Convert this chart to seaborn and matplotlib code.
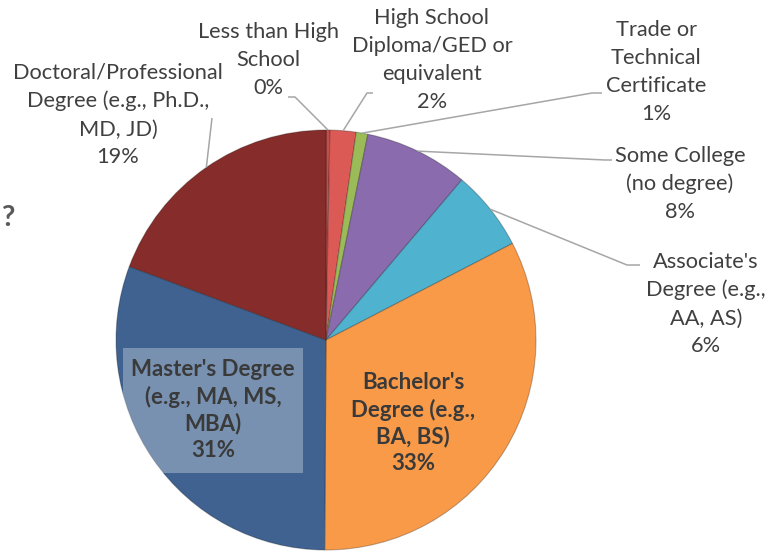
import matplotlib
matplotlib.use("Agg")
import matplotlib.pyplot as plt
import seaborn as sns
import numpy as np
from matplotlib.patches import Rectangle

# ---- data ----
categories = [
    "Less than High\nSchool",
    "High School\nDiploma/GED or\nequivalent",
    "Trade or\nTechnical\nCertificate",
    "Some College\n(no degree)",
    "Associate's\nDegree (e.g.,\nAA, AS)",
    "Bachelor's\nDegree (e.g.,\nBA, BS)",
    "Master's Degree\n(e.g., MA, MS,\nMBA)",
    "Doctoral/Professional\nDegree (e.g., Ph.D.,\nMD, JD)",
]
values = [0.3, 2.0, 0.9, 8.0, 6.2, 32.7, 30.6, 19.3]
colors = ["#c0504d", "#dc5a55", "#9bbb59", "#8a6bae", "#4fb3d0",
          "#f89a48", "#3f6290", "#862d2b"]

# ---- layout (pixels) ----
W, H = 783, 554
cx, cy, R = 326, 340, 210
# label centers (px) for outside labels
outside = {
    0: (268, 60),
    1: (432, 60),
    2: (656, 72),
    3: (680, 184),
    4: (706, 304),
    7: (118, 115),
}
# leader elbow and end points (px)
leaders = {
    0: [(295, 97), (288, 97)],
    1: [(367, 93), (373, 93)],
    2: [(592, 93), (602, 93)],
    3: [(605, 160), (612, 160)],
    4: [(627, 265), (640, 265)],
    7: [(212, 118)],
}
inside = {5: (413, 423), 6: (213, 410)}

sns.set_theme(style="white")
plt.rcParams['font.family'] = ['Lato', 'DejaVu Sans']

fig = plt.figure(figsize=(W / 100, H / 100), dpi=100)
ax = fig.add_axes([0, 0, 1, 1])
pal = sns.color_palette(colors)

wedges, _ = ax.pie(values, colors=pal, startangle=90, counterclock=False,
                   center=(cx, H - cy), radius=R,
                   wedgeprops=dict(edgecolor=(0, 0, 0, 0.25), linewidth=0.8))
ax.set_xlim(0, W)
ax.set_ylim(0, H)
ax.set_aspect('equal')
ax.axis('off')

def pct(v):
    return f"{int(round(v))}%"

tcol = "#404040"
cum = np.cumsum([0] + values)
total = sum(values)
for i, (lab, v) in enumerate(zip(categories, values)):
    mid = (cum[i] + v / 2) / total * 2 * np.pi
    sx = cx + R * np.sin(mid)
    sy = cy - R * np.cos(mid)
    if i in outside:
        x, y = outside[i]
        ax.text(x, H - y, lab + "\n" + pct(v), ha='center', va='center',
                fontsize=15.7, color=tcol, linespacing=1.5)
        pts = [(sx, sy)] + leaders[i]
        ax.plot([p[0] for p in pts], [H - p[1] for p in pts],
                color="#a6a6a6", lw=1.1, solid_capstyle='butt')
    else:
        x, y = inside[i]
        ax.text(x, H - y, lab + "\n" + pct(v), ha='center', va='center',
                fontsize=16, color="#3a3a3a", fontweight='bold',
                linespacing=1.3, zorder=5)

# translucent box behind Master's label
ax.add_patch(Rectangle((123, H - 473), 180, 125, facecolor='white',
                       alpha=0.3, edgecolor='none', zorder=4))

# cut-off title fragment
ax.text(8, H - 218, "?", ha='center', va='center', fontsize=21,
        fontweight='bold', color="#595959")

fig.savefig("out.png", dpi=100)
